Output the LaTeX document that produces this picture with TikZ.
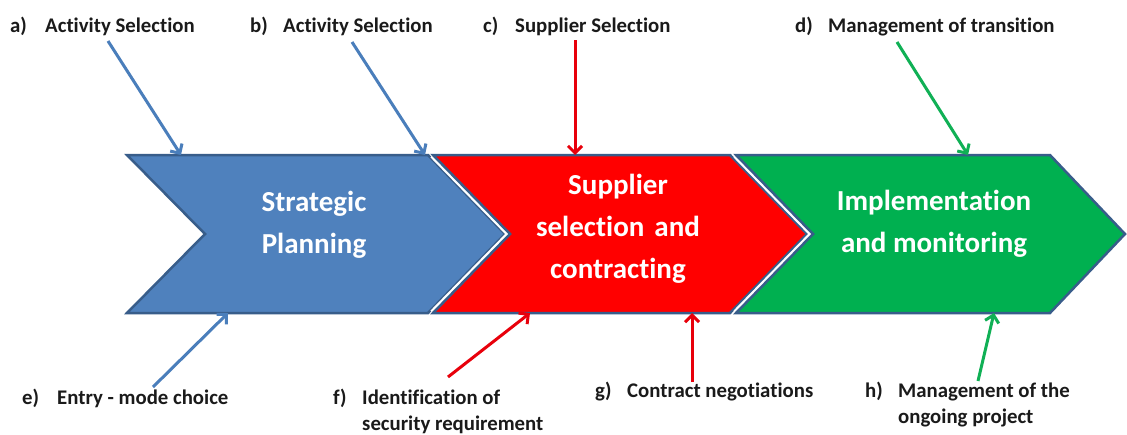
\documentclass[tikz,border=0pt]{standalone}
\usepackage{fontspec}
\setmainfont{Carlito}[Ligatures=NoCommon]
\usetikzlibrary{arrows.meta}

\definecolor{phaseblue}{HTML}{4F81BD}
\definecolor{phasered}{HTML}{FF0000}
\definecolor{phasegreen}{HTML}{00B050}
\definecolor{rimblue}{HTML}{385D8A}
\definecolor{arrowblue}{HTML}{4A7EBB}
\definecolor{arrowred}{HTML}{E8000B}
\definecolor{arrowgreen}{HTML}{10B055}
\definecolor{labelink}{HTML}{1A1A1A}

\tikzset{
  chevron/.style={draw=rimblue, line width=2.5pt, line join=miter},
  notchgap/.style={draw=white, line width=7pt, line join=miter},
  phase/.style={text=white, align=center,
    font=\fontsize{29}{42}\selectfont\bfseries},
  tag/.style={anchor=base west, inner sep=0pt, text=labelink, align=left,
    font=\fontsize{20.8}{26.5}\selectfont\bfseries},
  feed/.style={line width=3pt, -{Straight Barb[length=7pt,width=14pt]}},
}

\begin{document}
\begin{tikzpicture}[x=1pt,y=-1pt]
\useasboundingbox (0,0) rectangle (1127,434);
\fill[white] (0,0) rectangle (1127,434);

% the three process chevrons
\path[chevron, fill=phaseblue]
  (127,155) -- (428,155) -- (505,234) -- (428,313) -- (127,313) -- (205,234) -- cycle;
\draw[notchgap] (433,155) -- (510,234) -- (433,313);
\path[chevron, fill=phasered]
  (433,155) -- (730,155) -- (807,234) -- (730,313) -- (433,313) -- (510,234) -- cycle;
\draw[notchgap] (736,155) -- (813,234) -- (736,313);
\path[chevron, fill=phasegreen]
  (736,155) -- (1050,155) -- (1125,234) -- (1050,313) -- (736,313) -- (813,234) -- cycle;

% phase titles
\node[phase] (plan) at (314,225) {Strategic\\Planning};
\node[phase] (select) at (618,229) {Supplier\\selection\hspace{0.12em} and\\contracting};
\node[phase] (implement) at (934,224) {Implementation\\and monitoring};

% activity labels above
\node[tag] (la) at (10,32) {\makebox[35pt][l]{a)}Activity Selection};
\node[tag] (lb) at (250,32) {\makebox[33pt][l]{b)}Activity Selection};
\node[tag] (lc) at (483,32) {\makebox[32pt][l]{c)}Supplier Selection};
\node[tag] (ld) at (795,32) {\makebox[33pt][l]{d)}Management of transition};

% activity labels below (two-line labels sit on their last baseline)
\node[tag] (le) at (22,404) {\makebox[35pt][l]{e)}Entry - mode choice};
\node[tag] (lf) at (333,430.5) {\makebox[29pt][l]{f)}Identification of\\\hspace*{29pt}security requirement};
\node[tag] (lg) at (595,397) {\makebox[32pt][l]{g)}Contract negotiations};
\node[tag] (lh) at (865,423.5) {\makebox[33pt][l]{h)}Management of the\\\hspace*{33pt}ongoing project};

% connector end points
\coordinate (a0) at (108,41);  \coordinate (a1) at (181,155);
\coordinate (b0) at (352,42);  \coordinate (b1) at (425,155);
\coordinate (c0) at (575,40);  \coordinate (c1) at (575,155);
\coordinate (d0) at (897,42);  \coordinate (d1) at (968,155);
\coordinate (e0) at (153,387); \coordinate (e1) at (228,313);
\coordinate (f0) at (448,377); \coordinate (f1) at (530,313);
\coordinate (g0) at (692,382); \coordinate (g1) at (692,313);
\coordinate (h0) at (978,381); \coordinate (h1) at (994,313);

\draw[feed, arrowblue]  (a0) -- (a1);
\draw[feed, arrowblue]  (b0) -- (b1);
\draw[feed, arrowred]   (c0) -- (c1);
\draw[feed, arrowgreen] (d0) -- (d1);
\draw[feed, arrowblue]  (e0) -- (e1);
\draw[feed, arrowred]   (f0) -- (f1);
\draw[feed, arrowred]   (g0) -- (g1);
\draw[feed, arrowgreen] (h0) -- (h1);
\end{tikzpicture}
\end{document}
